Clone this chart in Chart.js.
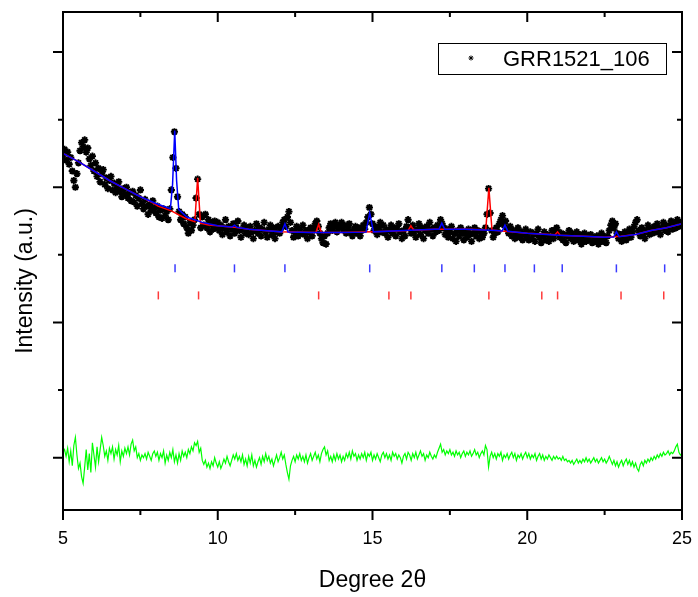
<!DOCTYPE html>
<html>
<head>
<meta charset="utf-8">
<title>GRR1521_106</title>
<script src="https://cdn.jsdelivr.net/npm/chart.js@4.4.0/dist/chart.umd.min.js"></script>
<style>
    html, body { margin: 0; padding: 0; background: #fff; }
    #wrap { width: 698px; height: 597px; position: relative; }
</style>
</head>
<body>
<div id="wrap"><canvas id="xrdChart"></canvas></div>
<script>
// scan grid (degrees 2theta), one reading every 0.05
const scanStart = 5.0;
const scanStep = 0.05;

// observed intensity, one row per degree (5.00 .. 25.00)
const obsIntensity = [
    2.24, 2.28, 2.20, 2.26, 2.17, 2.22, 2.12, 2.05, 2.00, 2.10, 2.18, 2.27, 2.33, 2.30, 2.35, 2.26, 2.29, 2.21, 2.16, 2.23,
    2.12, 2.18, 2.08, 2.14, 2.04, 2.10, 2.13, 2.02, 2.07, 1.99, 2.05, 2.08, 1.98, 2.03, 1.96, 2.00, 2.04, 1.97, 1.93, 1.99,
    1.95, 2.00, 1.92, 1.96, 1.90, 1.97, 1.89, 1.94, 1.86, 1.92, 1.98, 1.88, 1.84, 1.91, 1.86, 1.80, 1.87, 1.83, 1.90, 1.85,
    1.81, 1.86, 1.78, 1.83, 1.77, 1.84, 1.79, 1.82, 1.76, 1.84, 1.98, 2.22, 2.41, 2.14, 1.93, 1.82, 1.76, 1.80, 1.73, 1.78,
    1.70, 1.66, 1.74, 1.68, 1.72, 1.76, 1.92, 2.06, 1.80, 1.70, 1.78, 1.72, 1.80, 1.70, 1.76, 1.67, 1.73, 1.69, 1.75, 1.70,
    1.74, 1.68, 1.72, 1.65, 1.70, 1.76, 1.67, 1.71, 1.64, 1.69, 1.73, 1.66, 1.70, 1.75, 1.68, 1.63, 1.69, 1.72, 1.66, 1.70,
    1.65, 1.71, 1.67, 1.62, 1.68, 1.73, 1.66, 1.70, 1.64, 1.69, 1.74, 1.67, 1.63, 1.69, 1.72, 1.65, 1.70, 1.62, 1.67, 1.71,
    1.66, 1.70, 1.74, 1.76, 1.71, 1.78, 1.82, 1.74, 1.68, 1.63, 1.67, 1.71, 1.64, 1.69, 1.66, 1.72, 1.65, 1.68, 1.62, 1.67,
    1.70, 1.64, 1.69, 1.73, 1.75, 1.71, 1.66, 1.62, 1.59, 1.64, 1.58, 1.66, 1.70, 1.73, 1.68, 1.71, 1.74, 1.67, 1.70, 1.72,
    1.74, 1.69, 1.72, 1.66, 1.70, 1.73, 1.67, 1.64, 1.69, 1.71, 1.66, 1.70, 1.64, 1.68, 1.72, 1.69, 1.74, 1.78, 1.85, 1.80,
    1.73, 1.68, 1.71, 1.65, 1.70, 1.74, 1.67, 1.72, 1.66, 1.69, 1.63, 1.68, 1.72, 1.66, 1.70, 1.64, 1.69, 1.73, 1.67, 1.62,
    1.68, 1.64, 1.71, 1.76, 1.70, 1.66, 1.72, 1.67, 1.63, 1.69, 1.73, 1.65, 1.70, 1.62, 1.68, 1.71, 1.66, 1.74, 1.69, 1.64,
    1.70, 1.67, 1.72, 1.68, 1.76, 1.73, 1.70, 1.65, 1.69, 1.63, 1.67, 1.71, 1.62, 1.66, 1.60, 1.68, 1.64, 1.70, 1.66, 1.61,
    1.67, 1.63, 1.69, 1.65, 1.60, 1.66, 1.70, 1.64, 1.68, 1.62, 1.67, 1.63, 1.66, 1.70, 1.80, 1.99, 1.81, 1.68, 1.63, 1.66,
    1.70, 1.67, 1.73, 1.76, 1.79, 1.72, 1.75, 1.69, 1.66, 1.71, 1.64, 1.68, 1.62, 1.66, 1.70, 1.63, 1.67, 1.61, 1.65, 1.69,
    1.64, 1.61, 1.67, 1.62, 1.66, 1.60, 1.65, 1.69, 1.63, 1.59, 1.64, 1.67, 1.61, 1.65, 1.60, 1.63, 1.68, 1.62, 1.66, 1.70,
    1.67, 1.63, 1.66, 1.61, 1.65, 1.59, 1.64, 1.68, 1.62, 1.66, 1.60, 1.63, 1.67, 1.61, 1.65, 1.58, 1.62, 1.66, 1.60, 1.64,
    1.61, 1.65, 1.59, 1.63, 1.60, 1.64, 1.58, 1.62, 1.66, 1.60, 1.63, 1.59, 1.64, 1.68, 1.72, 1.75, 1.70, 1.73, 1.66, 1.62,
    1.65, 1.60, 1.63, 1.67, 1.61, 1.65, 1.69, 1.63, 1.67, 1.71, 1.74, 1.76, 1.68, 1.64, 1.70, 1.66, 1.62, 1.68, 1.72, 1.65,
    1.69, 1.66, 1.71, 1.67, 1.73, 1.69, 1.65, 1.70, 1.74, 1.68, 1.72, 1.67, 1.71, 1.75, 1.69, 1.73, 1.70, 1.76, 1.71, 1.74,
    1.72
];

// obs - calc difference curve, same grid
const diffIntensity = [
    0.04, 0.06, 0.01, 0.07, -0.03, 0.05, -0.06, 0.09, 0.15, 0.02, -0.08, -0.04, -0.14, -0.19, -0.07, 0.06, -0.09, 0.03, -0.11, 0.11,
    0.02, -0.07, 0.08, -0.03, 0.06, 0.15, 0.09, 0.01, 0.05, -0.02, 0.07, 0.03, 0.08, -0.01, 0.06, 0.02, 0.09, -0.03, 0.05, 0.01,
    0.07, 0.03, 0.08, 0.02, 0.10, 0.13, 0.05, 0.08, 0.00, 0.03, -0.02, 0.02, 0.00, 0.03, -0.01, 0.04, 0.01, -0.02, 0.03, 0.05,
    0.01, 0.04, -0.02, 0.03, 0.00, 0.05, -0.04, 0.02, -0.02, 0.04, 0.00, 0.06, -0.03, 0.02, -0.04, 0.03, -0.02, 0.05, 0.01, 0.04,
    0.00, 0.06, 0.03, 0.08, 0.05, 0.11, 0.09, 0.12, 0.04, 0.07, -0.02, -0.05, -0.02, -0.07, -0.04, -0.08, -0.03, -0.06, 0.00, -0.04,
    -0.07, -0.03, -0.08, -0.05, -0.01, -0.04, 0.01, -0.03, -0.06, -0.02, 0.02, -0.01, 0.03, -0.02, 0.01, -0.03, 0.02, -0.05, -0.01, -0.06,
    0.01, -0.04, 0.02, -0.06, -0.02, -0.07, -0.03, 0.00, -0.05, 0.01, -0.03, 0.03, -0.02, 0.01, -0.04, -0.01, -0.06, -0.02, 0.02, -0.03,
    0.00, 0.04, -0.01, 0.02, -0.05, -0.11, -0.16, -0.06, -0.02, 0.01, -0.03, 0.02, -0.01, 0.03, -0.02, 0.01, -0.03, 0.02, -0.04, 0.00,
    0.03, -0.02, 0.01, 0.04, -0.01, 0.02, -0.03, 0.03, 0.06, 0.08, 0.02, 0.05, -0.02, 0.01, -0.03, 0.02, -0.02, 0.03, -0.01, 0.02,
    -0.03, 0.01, -0.02, 0.03, 0.00, 0.04, -0.01, 0.05, 0.01, 0.03, -0.02, 0.02, -0.01, 0.03, 0.00, 0.04, -0.02, 0.03, 0.01, 0.04,
    -0.02, 0.02, -0.01, 0.03, 0.00, -0.03, 0.02, 0.04, 0.00, 0.03, -0.01, 0.02, -0.02, 0.04, 0.01, 0.03, -0.01, 0.02, 0.00, -0.04,
    0.01, 0.03, -0.01, 0.04, 0.02, -0.02, 0.03, 0.00, 0.04, -0.01, 0.02, 0.05, 0.01, 0.03, -0.02, 0.02, 0.00, 0.04, 0.01, -0.01,
    0.02, 0.00, 0.04, 0.07, 0.10, 0.04, 0.06, 0.02, 0.05, 0.03, 0.06, 0.02, 0.04, 0.01, 0.05, 0.02, 0.04, 0.00, 0.03, 0.05,
    0.01, 0.04, 0.02, 0.05, 0.01, 0.03, 0.06, 0.02, 0.04, 0.00, 0.03, 0.05, 0.02, 0.09, 0.06, -0.07, 0.01, 0.04, 0.00, 0.03,
    -0.01, 0.03, 0.01, 0.04, -0.02, 0.02, 0.00, 0.03, -0.01, 0.02, 0.04, 0.00, 0.03, -0.02, 0.02, 0.00, 0.03, -0.01, 0.02, 0.04,
    0.00, 0.03, -0.01, 0.02, 0.00, 0.03, -0.02, 0.01, 0.03, -0.01, 0.02, -0.02, 0.01, -0.01, 0.02, 0.00, -0.02, 0.01, -0.01, 0.01,
    -0.01, 0.00, -0.02, 0.01, -0.02, -0.01, -0.03, -0.02, -0.04, -0.02, -0.05, -0.03, -0.01, -0.04, -0.02, -0.04, -0.01, -0.03, 0.00, -0.03,
    -0.01, -0.04, -0.02, 0.00, -0.03, -0.01, -0.04, -0.02, 0.00, -0.03, -0.01, -0.04, -0.02, 0.01, -0.02, -0.05, -0.02, -0.06, -0.03, -0.07,
    -0.04, -0.02, -0.06, -0.03, -0.01, -0.05, -0.02, -0.06, -0.03, -0.07, -0.04, -0.08, -0.10, -0.05, -0.03, -0.06, -0.02, -0.04, -0.01, -0.03,
    0.00, -0.02, 0.01, -0.01, 0.02, 0.00, 0.03, 0.01, 0.04, 0.02, 0.03, 0.05, 0.02, 0.04, 0.03, 0.05, 0.08, 0.10, 0.04, 0.02,
    0.03
];

// calculated profile, blue phase (2theta, intensity)
const blueCalc = [
    [5.0, 2.25], [5.5, 2.19], [6.0, 2.12], [6.5, 2.05], [7.0, 1.99], [7.5, 1.93], [8.0, 1.88],
    [8.47, 1.842], [8.54, 2.02], [8.61, 2.42], [8.67, 2.05], [8.74, 1.835], [9.0, 1.78], [9.5, 1.74],
    [10.0, 1.715], [10.46, 1.706], [10.54, 1.72], [10.62, 1.704], [11.0, 1.69], [11.5, 1.68],
    [12.07, 1.67], [12.17, 1.73], [12.27, 1.669], [13.0, 1.665], [14.0, 1.665],
    [14.79, 1.668], [14.91, 1.81], [15.03, 1.67], [16.0, 1.68], [17.0, 1.69],
    [17.15, 1.69], [17.24, 1.735], [17.33, 1.69], [18.0, 1.69], [19.0, 1.68],
    [19.19, 1.677], [19.28, 1.72], [19.37, 1.675], [20.0, 1.66], [21.0, 1.645], [22.0, 1.635], [22.5, 1.63],
    [22.79, 1.632], [22.88, 1.67], [22.97, 1.634], [23.5, 1.65], [24.0, 1.68], [24.5, 1.70], [25.0, 1.73]
];

// calculated profile, red phase
const redCalc = [
    [5.0, 2.25], [5.5, 2.19], [6.0, 2.12], [6.5, 2.05], [7.0, 1.99], [7.5, 1.93], [7.9, 1.885],
    [8.07, 1.86], [8.5, 1.825], [9.0, 1.765], [9.26, 1.745], [9.35, 2.07], [9.44, 1.735], [9.7, 1.72],
    [10.0, 1.715], [10.5, 1.705], [11.0, 1.69], [11.5, 1.68], [12.0, 1.67],
    [13.17, 1.665], [13.26, 1.725], [13.35, 1.665], [14.0, 1.665], [15.0, 1.67], [15.53, 1.675],
    [16.15, 1.68], [16.24, 1.715], [16.33, 1.682], [17.0, 1.69], [18.0, 1.69],
    [18.66, 1.685], [18.76, 1.995], [18.86, 1.683], [19.0, 1.68], [20.0, 1.66], [20.47, 1.655],
    [20.9, 1.648], [20.98, 1.67], [21.06, 1.645], [22.0, 1.635], [22.5, 1.63], [23.03, 1.637],
    [23.5, 1.65], [24.0, 1.68], [24.5, 1.70], [25.0, 1.73]
];

// Bragg reflection markers
const blueReflections = [8.62, 10.54, 12.17, 14.91, 17.24, 18.29, 19.28, 20.23, 21.13, 22.88, 24.44];
const redReflections = [8.08, 9.38, 13.26, 15.53, 16.24, 18.76, 20.47, 20.98, 23.03, 24.41];
const blueMarkLevel = 1.40;
const redMarkLevel = 1.20;

// axis ticks
const xMajorTicks = [5, 10, 15, 20, 25];
const xMinorTicks = [7.5, 12.5, 17.5, 22.5];
const yMajorTicks = [0, 1, 2, 3];
const yMinorTicks = [0.5, 1.5, 2.5];

const seriesLabel = 'GRR1521_106';
const fontFamily = '"Liberation Sans", Arial, sans-serif';

function scanPoints(values) {
    return values.map((v, i) => ({ x: +(scanStart + i * scanStep).toFixed(2), y: v }));
}

function pairPoints(pairs) {
    return pairs.map(p => ({ x: p[0], y: p[1] }));
}

function markPoints(list, level) {
    return list.map(v => ({ x: v, y: level }));
}

// frame, ticks, labels, titles and legend drawn with the chart's scales
const framePlugin = {
    id: 'frame',
    afterDraw(chart) {
        const ctx = chart.ctx;
        const a = chart.chartArea;
        const xs = chart.scales.x;
        const ys = chart.scales.y;
        ctx.save();

        ctx.strokeStyle = '#000';
        ctx.lineWidth = 2;
        ctx.strokeRect(a.left, a.top, a.right - a.left, a.bottom - a.top);

        ctx.beginPath();
        xMajorTicks.forEach(v => {
            const px = xs.getPixelForValue(v);
            ctx.moveTo(px, a.bottom); ctx.lineTo(px, a.bottom + 10);
            ctx.moveTo(px, a.top); ctx.lineTo(px, a.top + 10);
        });
        xMinorTicks.forEach(v => {
            const px = xs.getPixelForValue(v);
            ctx.moveTo(px, a.bottom); ctx.lineTo(px, a.bottom + 5);
            ctx.moveTo(px, a.top); ctx.lineTo(px, a.top + 5);
        });
        yMajorTicks.forEach(v => {
            const py = ys.getPixelForValue(v);
            ctx.moveTo(a.left, py); ctx.lineTo(a.left - 10, py);
            ctx.moveTo(a.right, py); ctx.lineTo(a.right - 10, py);
        });
        yMinorTicks.forEach(v => {
            const py = ys.getPixelForValue(v);
            ctx.moveTo(a.left, py); ctx.lineTo(a.left - 5, py);
            ctx.moveTo(a.right, py); ctx.lineTo(a.right - 5, py);
        });
        ctx.stroke();

        // tick labels
        ctx.fillStyle = '#000';
        ctx.font = '18px ' + fontFamily;
        ctx.textAlign = 'center';
        ctx.textBaseline = 'alphabetic';
        xMajorTicks.forEach(v => {
            ctx.fillText(String(v), xs.getPixelForValue(v), a.bottom + 34);
        });

        // axis titles
        ctx.font = '23px ' + fontFamily;
        ctx.fillText('Degree 2\u03B8', (a.left + a.right) / 2, 587);
        ctx.save();
        ctx.translate(32, 281);
        ctx.rotate(-Math.PI / 2);
        ctx.fillText('Intensity (a.u.)', 0, 0);
        ctx.restore();

        // legend box
        const bx = a.right - 244, by = a.top + 31, bw = 228, bh = 31;
        ctx.fillStyle = '#fff';
        ctx.fillRect(bx, by, bw, bh);
        ctx.lineWidth = 1;
        ctx.strokeStyle = '#000';
        ctx.strokeRect(bx + 0.5, by + 0.5, bw, bh);
        Chart.helpers.drawPoint(ctx, { pointStyle: 'star', radius: 2.5, borderWidth: 1, rotation: 0 }, bx + 33, by + 15);
        ctx.fillStyle = '#000';
        ctx.font = '22px ' + fontFamily;
        ctx.textAlign = 'left';
        ctx.fillText(seriesLabel, bx + 65, by + 23);

        ctx.restore();
    }
};

const canvas = document.getElementById('xrdChart');
new Chart(canvas.getContext('2d'), {
    type: 'scatter',
    data: {
        datasets: [
            {
                label: 'blue calc',
                data: pairPoints(blueCalc),
                showLine: true,
                borderColor: '#0000ff',
                borderWidth: 1.5,
                pointRadius: 0,
                order: 0
            },
            {
                label: 'red calc',
                data: pairPoints(redCalc),
                showLine: true,
                borderColor: '#ff0000',
                borderWidth: 1.5,
                pointRadius: 0,
                order: 1
            },
            {
                label: seriesLabel,
                data: scanPoints(obsIntensity),
                pointStyle: 'star',
                pointRadius: 3.6,
                pointBorderWidth: 1.9,
                borderColor: '#000',
                backgroundColor: '#000',
                order: 2
            },
            {
                label: 'difference',
                data: scanPoints(diffIntensity),
                showLine: true,
                borderColor: '#00ff00',
                borderWidth: 1.2,
                pointRadius: 0,
                order: 3
            },
            {
                label: 'blue reflections',
                data: markPoints(blueReflections, blueMarkLevel),
                pointStyle: 'line',
                rotation: 90,
                pointRadius: 4,
                pointBorderWidth: 1.5,
                borderColor: '#3b3bff',
                order: 4
            },
            {
                label: 'red reflections',
                data: markPoints(redReflections, redMarkLevel),
                pointStyle: 'line',
                rotation: 90,
                pointRadius: 4,
                pointBorderWidth: 1.5,
                borderColor: '#ff3b3b',
                order: 5
            }
        ]
    },
    options: {
        responsive: true,
        maintainAspectRatio: false,
        animation: false,
        layout: { padding: { left: 63, top: 12, right: 16, bottom: 87 } },
        plugins: { legend: { display: false }, tooltip: { enabled: false } },
        scales: {
            x: { type: 'linear', min: 5, max: 25, display: false },
            y: { type: 'linear', min: -0.387, max: 3.296, display: false }
        }
    },
    plugins: [framePlugin]
});
</script>
</body>
</html>
